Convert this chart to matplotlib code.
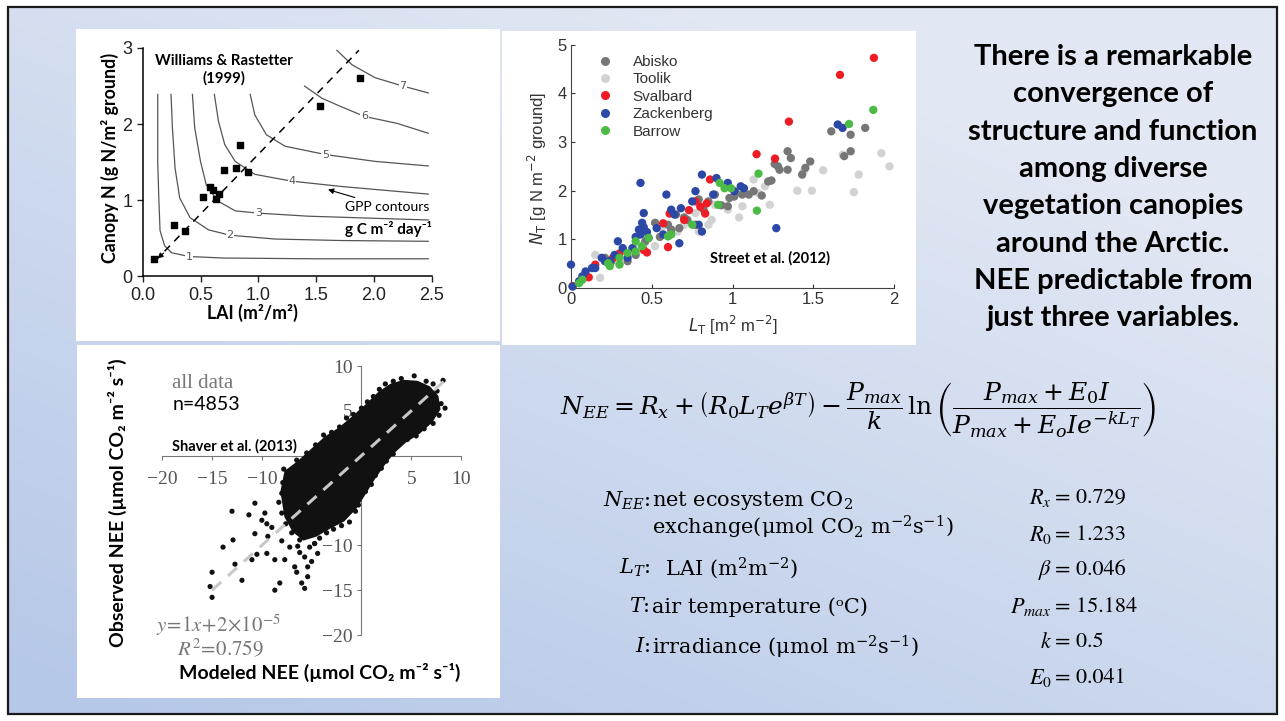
import numpy as np
import matplotlib.pyplot as plt
from matplotlib.patches import Rectangle, Polygon
from matplotlib.lines import Line2D

W, H = 1285, 721


def fx(px):
    return px / W


def fy(py):
    return 1 - py / H


plt.rcParams['mathtext.fontset'] = 'stix'
SANS = ['Lato', 'DejaVu Sans']
SERIF = ['DejaVu Serif', 'DejaVu Sans']

# --- Williams & Rastetter (1999): canopy N vs LAI ---
lai_obs = [0.10, 0.27, 0.37, 0.52, 0.58, 0.61, 0.63, 0.66, 0.70, 0.81, 0.84, 0.91, 1.53, 1.88]
canopy_n_obs = [0.23, 0.68, 0.60, 1.04, 1.18, 1.13, 1.02, 1.08, 1.40, 1.42, 1.73, 1.37, 2.24, 2.61]
gpp_levels = ['1', '2', '3', '4', '5', '6', '7']
gpp_lai = [
    [0.13, 0.13, 0.14, 0.15, 0.19, 0.25, 0.40, 0.70, 1.50, 2.47],
    [0.245, 0.257, 0.28, 0.32, 0.41, 0.57, 0.755, 1.14, 1.72, 2.47],
    [0.43, 0.45, 0.50, 0.55, 0.65, 0.80, 1.00, 1.43, 2.47],
    [0.62, 0.655, 0.71, 0.80, 0.97, 1.29, 1.72, 2.47],
    [0.93, 0.97, 1.07, 1.23, 1.58, 2.01, 2.47],
    [1.40, 1.55, 1.70, 1.92, 2.20, 2.47],
    [1.68, 1.81, 2.01, 2.25, 2.47],
]
gpp_n = [
    [2.39, 1.50, 1.00, 0.60, 0.40, 0.31, 0.26, 0.24, 0.23, 0.23],
    [2.39, 1.95, 1.42, 1.03, 0.77, 0.61, 0.54, 0.49, 0.47, 0.46],
    [2.39, 1.95, 1.51, 1.20, 0.99, 0.86, 0.83, 0.79, 0.74],
    [2.39, 2.04, 1.73, 1.51, 1.34, 1.25, 1.18, 1.08],
    [2.39, 2.12, 1.86, 1.71, 1.60, 1.51, 1.45],
    [2.50, 2.34, 2.24, 2.10, 2.01, 1.88],
    [2.97, 2.78, 2.61, 2.50, 2.41],
]
gpp_label_idx = [6, 6, 6, 5, 4, 3, 3]

# --- Street et al. (2012): N_T vs L_T by site ---
sites = ['Abisko', 'Toolik', 'Svalbard', 'Zackenberg', 'Barrow']
site_colors = ['#767676', '#d2d2d2', '#ee1c25', '#2b48a6', '#4cbb45']
abisko_x = [1.82, 1.61, 1.73, 1.73, 1.69, 1.34, 1.36, 1.34, 1.28, 1.29, 1.48, 1.45, 1.43, 1.24, 1.13,
            1.18, 1.06, 1.01, 0.85, 0.89, 0.82, 0.72, 0.67, 0.60, 0.52, 0.46, 0.40, 0.21, 0.25, 0.65,
            0.77, 0.97, 1.10, 1.22, 0.79, 0.35, 0.55, 0.62, 0.70, 0.93, 0.98, 1.02, 1.26]
abisko_y = [3.29, 3.22, 3.15, 2.81, 2.71, 2.81, 2.67, 2.43, 2.50, 2.43, 2.60, 2.47, 2.33, 2.21, 1.99,
            1.90, 1.92, 1.88, 1.78, 1.92, 1.61, 1.40, 1.23, 1.30, 1.34, 0.96, 0.68, 0.62, 0.55, 1.51,
            1.30, 1.68, 1.92, 2.19, 1.82, 0.55, 1.05, 1.20, 1.45, 1.70, 1.85, 1.95, 2.55]
toolik_x = [1.92, 1.97, 1.78, 1.75, 1.56, 1.49, 1.40, 1.68, 1.23, 1.04, 1.06, 1.16, 1.20, 1.13, 0.97,
            0.87, 0.85, 0.79, 0.66, 0.56, 0.52, 0.40, 0.15, 0.18, 0.26, 0.09, 0.89, 0.77, 1.44,
            0.30, 0.45, 0.60, 0.70]
toolik_y = [2.77, 2.50, 2.33, 1.97, 2.42, 2.00, 2.00, 2.74, 1.71, 1.45, 1.68, 1.95, 2.09, 2.23, 1.61,
            1.40, 1.30, 1.16, 1.16, 1.23, 0.86, 0.82, 0.68, 0.21, 0.62, 0.21, 1.71, 1.54, 2.40,
            0.50, 0.90, 1.10, 1.30]
svalbard_x = [1.874, 1.664, 1.348, 1.148, 1.262, 0.86, 0.61, 0.73, 0.80, 0.84, 0.83, 0.70, 0.60, 0.47,
              0.30, 0.11, 0.01, 0.45, 0.57, 0.77, 0.26, 0.15]
svalbard_y = [4.73, 4.38, 3.42, 2.75, 2.66, 2.23, 1.53, 1.60, 1.67, 1.74, 1.53, 1.40, 0.84, 0.73,
              0.71, 0.22, 0.04, 0.78, 1.33, 1.78, 0.62, 0.48]
zackenberg_x = [1.65, 1.68, 1.27, 0.43, 0.81, 0.59, 0.77, 0.90, 0.97, 1.05, 0.81, 0.67, 0.00, 0.45,
                0.44, 0.42, 0.43, 0.45, 0.40, 0.47, 0.29, 0.32, 0.19, 0.15, 0.09, 0.05, 0.01, 0.35,
                0.24, 0.53, 0.57, 0.64, 0.68, 0.62, 0.75, 0.88, 0.79, 1.01, 1.07, 0.48, 0.38, 0.27,
                0.21, 0.13, 0.07]
zackenberg_y = [3.36, 3.29, 1.23, 2.16, 2.33, 1.92, 1.99, 2.26, 2.16, 2.09, 1.16, 0.92, 0.48, 1.54,
                1.34, 1.20, 1.10, 1.25, 1.05, 1.15, 0.96, 0.82, 0.62, 0.41, 0.34, 0.14, 0.03, 0.62,
                0.55, 1.23, 1.10, 1.51, 1.64, 1.61, 1.78, 1.92, 1.30, 1.99, 2.05, 1.03, 0.82, 0.68,
                0.55, 0.41, 0.24]
barrow_x = [1.87, 1.72, 1.16, 1.15, 0.92, 0.95, 0.99, 0.91, 0.75, 0.60, 0.62, 0.48, 0.40, 0.44,
            0.40, 0.35, 0.30, 0.23, 0.30, 0.24, 0.07, 0.05]
barrow_y = [3.66, 3.37, 2.35, 1.59, 2.16, 2.05, 2.05, 1.71, 1.30, 1.06, 1.10, 1.03, 0.96, 0.86,
            0.75, 0.72, 0.62, 0.51, 0.48, 0.45, 0.17, 0.10]

# --- Shaver et al. (2013): observed vs modeled NEE ---
core_x = [-7.6, -6.3, -4.8, -3.6, -2.2, -0.8, 0.5, 1.8, 3.0, 4.3, 5.6, 6.8, 7.6, 7.8, 7.0, 5.8, 4.4,
          3.2, 2.2, 1.2, 0.2, -0.6, -1.8, -3.2, -4.6, -5.8, -6.8, -7.6, -8.0]
core_y = [-1.8, -0.7, 0.8, 2.0, 3.0, 4.3, 5.6, 7.0, 7.9, 8.3, 8.2, 7.6, 6.6, 5.2, 3.8, 2.6, 1.6,
          0.4, -1.0, -2.6, -4.4, -5.8, -7.2, -8.0, -8.9, -9.3, -8.4, -6.8, -4.0]
edge_x = [-7.8, -6.5, -5.5, -4.6, -3.8, -3.0, -2.2, -1.5, -0.8, 0.0, 0.6, 1.2, 1.8, 2.4, 3.2, 4.0,
          5.3, 5.5, 6.5, 7.2, 8.2, 7.6, 8.0, 8.4, 7.8, 7.2, 6.3, 5.5, 4.6, 3.7, 3.2, 2.5, 2.0, 1.4,
          1.0, 0.4, -0.3, -0.6, -1.2, -2.0, -2.8, -3.5, -4.2, -4.7, -5.2, -6.2, -7.0, -7.6, -8.0,
          -8.3, -8.0, -7.9, -6.2, -5.0, -6.5, -7.2, -8.0, -9.0, -10.0, -11.3]
edge_y = [-1.5, -0.5, 0.3, 1.2, 2.3, 2.6, 3.2, 4.2, 4.6, 5.3, 6.0, 6.6, 7.4, 8.0, 8.3, 8.6,
          8.9, 7.9, 8.3, 8.0, 8.4, 7.2, 5.8, 5.3, 4.5, 3.6, 3.0, 2.2, 1.8, 1.2, 0.2, -0.6, -1.4, -2.2,
          -3.2, -4.0, -5.5, -6.2, -7.4, -7.8, -8.2, -8.6, -9.2, -9.8, -10.2, -9.4, -8.6, -7.6, -6.4,
          -5.2, -4.2, -3.0, -10.8, -11.8, -13.0, -10.2, -9.5, -8.0, -7.2, -6.6]
outlier_x = [-13.0, -12.9, -13.9, -15.0, -15.2, -15.0, -12.7, -12.0, -10.7, -10.7, -11.0, -10.5, -9.7,
             -9.5, -9.4, -8.7, -8.7, -7.7, -8.2, -9.5, -6.4, -5.7, -5.4, -5.4, -6.0, -5.7, -4.7, -6.7, -4.4]
outlier_y = [-6.2, -9.4, -10.2, -13.0, -14.6, -15.8, -12.1, -13.9, -8.7, -5.3, -11.6, -11.0, -6.4,
             -7.6, -9.0, -11.6, -15.0, -11.6, -14.2, -10.9, -10.1, -11.3, -12.4, -13.5, -14.2, -14.8,
             -9.8, -12.4, -10.9]

slide_lines = ['There is a remarkable', 'convergence of', 'structure and function', 'among diverse',
               'vegetation canopies', 'around the Arctic.', 'NEE predictable from', 'just three variables.']
param_names = [r'$R_x$', r'$R_0$', r'$\beta$', r'$P_{max}$', r'$k$', r'$E_0$']
param_values = ['0.729', '1.233', '0.046', '15.184', '0.5', '0.041']

fig = plt.figure(figsize=(W / 100, H / 100), dpi=100)

# slide background
bg = fig.add_axes([0, 0, 1, 1])
bg.set_xlim(0, W)
bg.set_ylim(H, 0)
bg.axis('off')
gx, gy = np.meshgrid(np.linspace(0, 1, 200), np.linspace(0, 1, 200))
t = np.clip(0.55 * (1 - gx) + 0.75 * gy - 0.25, 0, 1)
top = np.array([0.885, 0.910, 0.955])
bot = np.array([0.715, 0.785, 0.910])
grad = top[None, None, :] * (1 - t[..., None]) + bot[None, None, :] * t[..., None]
bg.imshow(grad, extent=(8, 1277, 714, 7), aspect='auto', interpolation='bilinear')
bg.add_patch(Rectangle((8, 7), 1269, 707, fill=False, ec='#1a1a1a', lw=1.6))
for (x0, y0, x1, y1) in [(76, 29, 500, 341), (502, 31, 916, 345), (77, 345, 500, 698)]:
    bg.add_patch(Rectangle((x0, y0), x1 - x0, y1 - y0, fc='white', ec='none'))

# ---------------- Williams & Rastetter panel ----------------
ax1 = fig.add_axes([fx(142.7), fy(276.3), (431.7 - 142.7) / W, (276.3 - 48) / H])
ax1.set_facecolor('none')
ax1.set_xlim(0, 2.5)
ax1.set_ylim(0, 3)
for s in ['top', 'right']:
    ax1.spines[s].set_visible(False)
ax1.spines['left'].set_linewidth(1.1)
ax1.spines['bottom'].set_linewidth(1.1)
ax1.set_xticks([0, 0.5, 1.0, 1.5, 2.0, 2.5])
ax1.set_xticklabels(['0.0', '0.5', '1.0', '1.5', '2.0', '2.5'])
ax1.set_yticks([0, 1, 2, 3])
ax1.tick_params(direction='out', length=4, width=1, labelsize=13, colors='#222')
for lab in ax1.get_xticklabels() + ax1.get_yticklabels():
    lab.set_fontfamily('Liberation Sans')
for lx, ly, lev, li in zip(gpp_lai, gpp_n, gpp_levels, gpp_label_idx):
    ax1.plot(lx, ly, color='#555', lw=0.9)
    ax1.text(lx[li], ly[li], lev, fontsize=8, color='#555', ha='center', va='center',
             bbox=dict(fc='white', ec='none', pad=0.5))
ax1.plot([0.107, 1.87], [0.20, 2.97], color='k', lw=1.1, ls=(0, (5, 4)))
ax1.annotate('', xy=(0.11, 0.21), xytext=(0.2, 0.33),
             arrowprops=dict(arrowstyle='-|>', color='k', lw=0.8, mutation_scale=8))
ax1.scatter(lai_obs, canopy_n_obs, marker='s', s=22, color='k', zorder=4, clip_on=False)
ax1.text(0.70, 2.71, 'Williams & Rastetter\n(1999)', ha='center', va='center', fontsize=10.8,
         fontweight='bold', family=SANS, linespacing=1.3)
ax1.annotate('GPP contours', xy=(1.58, 1.15), xytext=(1.75, 0.91), fontsize=10, family=SANS,
             va='center', arrowprops=dict(arrowstyle='-|>', color='k', lw=0.8, mutation_scale=8))
ax1.text(1.75, 0.62, 'g C m⁻² day⁻¹', fontsize=11, fontweight='bold', family=SANS, va='center')
fig.text(fx(110), fy(158), 'Canopy N (g N/m² ground)', rotation=90, ha='center', va='center',
         fontsize=12.8, fontweight='bold', family=SANS)
fig.text(fx(252), fy(313), 'LAI (m²/m²)', ha='center', va='center', fontsize=12.8,
         fontweight='bold', family=SANS)

# ---------------- Street et al. panel ----------------
ax2 = fig.add_axes([fx(571), fy(288), (894.3 - 571) / W, (288 - 44.7) / H])
ax2.set_facecolor('none')
ax2.set_xlim(0, 2)
ax2.set_ylim(0, 5)
for s in ['top', 'right']:
    ax2.spines[s].set_visible(False)
ax2.spines['left'].set_color('#444')
ax2.spines['bottom'].set_color('#444')
ax2.set_xticks([0, 0.5, 1, 1.5, 2])
ax2.set_xticklabels(['0', '0.5', '1', '1.5', '2'])
ax2.set_yticks([0, 1, 2, 3, 4, 5])
ax2.tick_params(direction='in', length=3, labelsize=12, colors='#333', pad=3)
for lab in ax2.get_xticklabels() + ax2.get_yticklabels():
    lab.set_fontfamily('Liberation Sans')
site_x = [abisko_x, toolik_x, svalbard_x, zackenberg_x, barrow_x]
site_y = [abisko_y, toolik_y, svalbard_y, zackenberg_y, barrow_y]
for i in [1, 0, 2, 3, 4]:
    ax2.scatter(site_x[i], site_y[i], s=36, color=site_colors[i], edgecolors='none', zorder=3,
                clip_on=False)
handles = [Line2D([], [], ls='none', marker='o', ms=6.5, mfc=c, mec='none') for c in site_colors]
leg = ax2.legend(handles, sites, loc='upper left', bbox_to_anchor=(0.03, 0.995), frameon=False,
                 handletextpad=0.8, labelspacing=0.22, borderaxespad=0.2,
                 prop={'family': 'Liberation Sans', 'size': 11})
for txt in leg.get_texts():
    txt.set_color('#333')
ax2.text(1.23, 0.60, 'Street et al. (2012)', fontsize=10.5, fontweight='bold', family=SANS,
         ha='center', va='center')
fig.text(fx(537), fy(168), r'$N_{\mathrm{T}}$ [g N m$^{-2}$ ground]', rotation=90, ha='center',
         va='center', fontsize=12, family='Liberation Sans', color='#333', math_fontfamily='dejavusans')
fig.text(fx(733), fy(325), r'$L_{\mathrm{T}}$ [m$^{2}$ m$^{-2}$]', ha='center', va='center',
         fontsize=12, family='Liberation Sans', color='#333', math_fontfamily='dejavusans')

# ---------------- Shaver et al. panel ----------------
ax3 = fig.add_axes([fx(162.3), fy(635), (461 - 162.3) / W, (635 - 366) / H])
ax3.set_facecolor('none')
ax3.set_xlim(-20, 10)
ax3.set_ylim(-20, 10)
for s in ['top', 'right']:
    ax3.spines[s].set_visible(False)
ax3.spines['left'].set_position(('data', 0))
ax3.spines['bottom'].set_position(('data', 0))
ax3.spines['left'].set_color('#777')
ax3.spines['bottom'].set_color('#777')
ax3.set_xticks([-20, -15, -10, -5, 5, 10])
ax3.set_xticklabels(['−20', '−15', '−10', '−5', '5', '10'])
ax3.set_yticks([-20, -15, -10, -5, 5, 10])
ax3.set_yticklabels(['−20', '−15', '−10', '−5', '5', '10'])
ax3.tick_params(length=3, color='#777', labelsize=14, labelcolor='#555')
ax3.tick_params(axis='x', pad=8)
for lab in ax3.get_xticklabels() + ax3.get_yticklabels():
    lab.set_fontfamily('Liberation Serif')
ax3.add_patch(Polygon(np.column_stack([core_x, core_y]), closed=True, fc='#111', ec='#111',
                      lw=2, zorder=3))
ax3.scatter(edge_x, edge_y, s=14, color='#111', edgecolors='none', zorder=3)
ax3.scatter(outlier_x, outlier_y, s=14, color='#111', edgecolors='none', zorder=3)
ax3.plot([-15, 8.6], [-15, 8.6], color='#c8c8c8', lw=2.2, ls=(0, (4, 3)), zorder=4)
fig.text(fx(172), fy(383), 'all data', fontsize=15, family='Liberation Serif', color='#777',
         va='center')
fig.text(fx(173), fy(405), 'n=4853', fontsize=14, family=SANS, va='center')
fig.text(fx(172), fy(446), 'Shaver et al. (2013)', fontsize=10.5, fontweight='bold', family=SANS,
         va='center')
fig.text(fx(156), fy(625), r'$y\!=\!1x\!+\!2\!\times\!10^{-5}$', fontsize=15, color='#777',
         va='center', math_fontfamily='stix')
fig.text(fx(177), fy(648), r'$R^2\!=\!\mathrm{0.759}$', fontsize=15, color='#777', va='center',
         math_fontfamily='stix')
fig.text(fx(117), fy(503), 'Observed NEE (µmol CO₂ m⁻² s⁻¹)', rotation=90, ha='center',
         va='center', fontsize=14, fontweight='bold', family=SANS)
fig.text(fx(320), fy(672), 'Modeled NEE (µmol CO₂ m⁻² s⁻¹)', ha='center', va='center',
         fontsize=14, fontweight='bold', family=SANS)

# ---------------- slide text ----------------
for i, line in enumerate(slide_lines):
    fig.text(fx(1113), fy(57 + i * 37.3), line, ha='center', va='center', fontsize=21,
             fontweight='bold', family=SANS)

eq = (r'$N_{EE} = R_x + \left(R_0 L_T e^{\beta T}\right) - \dfrac{P_{max}}{k}\,\ln\left('
      r'\dfrac{P_{max} + E_0 I}{P_{max} + E_o I e^{-k L_T}}\right)$')
fig.text(fx(560), fy(410), eq, ha='left', va='center', fontsize=18, math_fontfamily='dejavuserif')

defs = [
    (r'$N_{EE}$:', 'net ecosystem CO$_2$', 501),
    ('', r'exchange(μmol CO$_2$ m$^{-2}$s$^{-1}$)', 527),
    (r'$L_T$:', r'  LAI (m$^2$m$^{-2}$)', 568),
    (r'$T$:', 'air temperature (ᵒC)', 607),
    (r'$I$:', r'irradiance (μmol m$^{-2}$s$^{-1}$)', 647),
]
for lab, desc, py in defs:
    if lab:
        fig.text(fx(650), fy(py), lab, ha='right', va='center', fontsize=15,
                 family=SERIF, math_fontfamily='dejavuserif')
    fig.text(fx(652), fy(py), desc, ha='left', va='center', fontsize=15,
             family=SERIF, math_fontfamily='dejavuserif')

param_rows = [498, 535, 570, 607, 642, 678]
for name, val, py in zip(param_names, param_values, param_rows):
    fig.text(fx(1052), fy(py), name, ha='right', va='center', fontsize=16, math_fontfamily='stix')
    fig.text(fx(1055), fy(py), '= ' + val, ha='left', va='center', fontsize=16,
             family='STIXGeneral', math_fontfamily='stix')

fig.savefig('out.png', dpi=100)
